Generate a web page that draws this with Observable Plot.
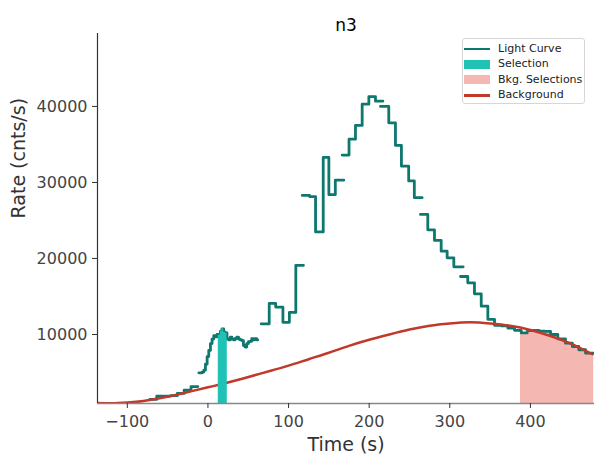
<!DOCTYPE html>
<html>
<head>
<meta charset="utf-8">
<script src="https://cdn.jsdelivr.net/npm/d3@7"></script>
<script src="https://cdn.jsdelivr.net/npm/@observablehq/plot@0.6"></script>
<style>
  body { margin: 0; background: #fff; font-family: "DejaVu Sans", sans-serif; }
  #wrap { position: relative; width: 602px; height: 465px; }
  .legend { position: absolute; left: 462px; top: 38px; width: 123px; height: 66px;
    border: 1px solid #d6d6d6; border-radius: 3px; background: rgba(255,255,255,0.85);
    box-sizing: border-box; font-size: 11px; color: #222; }
  .row { position: absolute; left: 0; height: 14px; width: 120px; }
  .row .h { position: absolute; left: 1px; width: 26px; }
  .row .t { position: absolute; left: 35px; top: 0; line-height: 14px; white-space: nowrap; }
</style>
</head>
<body>
<div id="wrap"></div>
<script>
// ---- data ----
const title = "n3";
const xLabel = "Time (s)";
const yLabel = "Rate (cnts/s)";
const xTicks = [-100, 0, 100, 200, 300, 400];
const yTicks = [10000, 20000, 30000, 40000];
const xDomain = [-137, 479.5];
const yDomain = [920, 49600];

// light curve, drawn in separate step segments (bin edges + rates)
const lc0Edges = [-72, -63.5, -55, -46.5, -38, -29.5, -21, -12.5];
const lc0Rates = [1450, 1900, 1900, 1950, 2250, 2680, 3150];

const lc1Edges = [-11.3, -9.2, -7.2, -5.1, -3.1, -1.0, 1.0, 3.1, 5.1, 7.2, 9.2, 11.3, 13.3, 15.4, 17.4, 19.5, 21.5, 23.6, 25.6, 27.7, 29.7, 31.7, 33.8, 35.8, 37.9, 39.9, 42.0, 44.0, 46.1, 48.1, 50.2, 52.2, 54.3, 56.3, 58.4, 60.4, 61.8];
const lc1Rates = [4950, 4950, 5050, 5300, 6100, 7100, 7900, 8800, 9400, 9850, 9700, 10000, 9900, 10400, 10750, 10300, 10200, 9400, 9300, 9650, 9400, 9300, 9500, 9650, 9400, 9300, 9200, 8550, 8350, 8800, 9050, 9100, 9450, 9300, 9450, 9300];

const lc2Edges = [66, 76, 84, 93, 101, 109, 118.5];
const lc2Rates = [11400, 14100, 13600, 11600, 12900, 19100];

const lc3Edges = [117, 126, 133.5, 143, 150, 158, 168.5];
const lc3Rates = [28300, 28150, 23500, 33300, 28400, 30300];

const lc4Edges = [166.5, 175, 183, 191.3, 199.6, 207.8, 217];
const lc4Rates = [33600, 35700, 37500, 40300, 41300, 40700];

const lc5Edges = [214, 224.3, 232.6, 240, 249, 256, 265.7];
const lc5Rates = [40000, 37850, 34870, 32150, 30200, 28000];

const lc6Edges = [263.6, 272.7, 281, 289.3, 296.7, 305, 316.6];
const lc6Rates = [25800, 23770, 22370, 20960, 20090, 18900];

const lc7Edges = [313.3, 322.3, 330.6, 339, 347.2, 355.5, 363.8, 372, 380.3, 388.6, 396];
const lc7Rates = [17630, 16800, 15350, 13720, 12000, 11200, 11150, 10850, 10550, 10200];

const lc8Edges = [396, 403, 410.5, 417.7, 425, 434, 443.5, 452, 460, 468.4, 478.5];
const lc8Rates = [10500, 10550, 10450, 10400, 10000, 9430, 8860, 8420, 7990, 7540];

// fitted background model
const bgTime = [-137, -120, -100, -80, -60, -40, -20, 0, 20, 40, 60, 80, 100, 125, 150, 175, 200, 225, 250, 275, 300, 325, 350, 375, 400, 425, 450, 477];
const bgRate = [1000, 950, 1050, 1250, 1600, 2050, 2550, 3050, 3550, 4100, 4700, 5300, 5900, 6750, 7600, 8500, 9300, 10000, 10650, 11150, 11450, 11600, 11450, 11150, 10600, 9800, 8800, 7400];

// selections
const srcSel = [12.8, 24.0];
const bkgSel = [387.7, 479.5];

// ---- build tables ----
const groups = [
  [lc0Edges, lc0Rates], [lc1Edges, lc1Rates], [lc2Edges, lc2Rates], [lc3Edges, lc3Rates],
  [lc4Edges, lc4Rates], [lc5Edges, lc5Rates], [lc6Edges, lc6Rates], [lc7Edges, lc7Rates], [lc8Edges, lc8Rates]
];
const lcPts = [];
groups.forEach(([e, r], g) => {
  r.forEach((v, i) => { lcPts.push({t: e[i], r: v, g}); lcPts.push({t: e[i + 1], r: v, g}); });
});
function clipSteps(list, a, b) {
  const out = [];
  list.forEach(([e, r]) => r.forEach((v, i) => {
    const lo = Math.max(e[i], a), hi = Math.min(e[i + 1], b);
    if (lo < hi) { out.push({t: lo, r: v}); out.push({t: hi, r: v}); }
  }));
  return out;
}
const selPts = clipSteps([[lc1Edges, lc1Rates]], srcSel[0], srcSel[1]);
const bkgPts = clipSteps([[lc7Edges, lc7Rates], [lc8Edges, lc8Rates]], bkgSel[0], bkgSel[1]);
const bgPts = bgTime.map((t, i) => ({t, r: bgRate[i]}));

const teal = "#0e786e", selFill = "#1fc2b4", bkgFill = "#f5b7b1", red = "#c0392b";

const chart = Plot.plot({
  width: 602, height: 465,
  marginLeft: 97, marginRight: 8, marginTop: 33, marginBottom: 62,
  x: {domain: xDomain},
  y: {domain: yDomain},
  style: {fontFamily: "DejaVu Sans", fontSize: "16px", color: "#444", background: "white"},
  marks: [
    Plot.areaY(bkgPts, {x: "t", y1: yDomain[0], y2: "r", fill: bkgFill, clip: true}),
    Plot.line(lcPts, {x: "t", y: "r", z: "g", stroke: teal, strokeWidth: 2.8, clip: true}),
    Plot.line(bgPts, {x: "t", y: "r", curve: "natural", stroke: red, strokeWidth: 2.5, clip: true}),
    Plot.areaY(selPts, {x: "t", y1: yDomain[0], y2: "r", fill: selFill, clip: true}),
    Plot.ruleX([xDomain[0]], {stroke: "#333", strokeWidth: 1.2}),
    Plot.ruleY([yDomain[0]], {stroke: "#888", strokeWidth: 1.4}),
    Plot.axisX({ticks: xTicks, tickSize: 5, tickPadding: 7, fontSize: 16, label: null, stroke: "#333"}),
    Plot.axisY({ticks: yTicks, tickSize: 5, tickPadding: 5, fontSize: 16, label: null, tickFormat: d => String(d), stroke: "#333"}),
    Plot.text([title], {frameAnchor: "top", dy: -15, fontSize: 17, fill: "#000"}),
    Plot.text([xLabel], {frameAnchor: "bottom", dy: 47, fontSize: 19, fill: "#333"}),
    Plot.text([yLabel], {frameAnchor: "left", dx: -79, rotate: -90, fontSize: 19, fill: "#333"})
  ]
});
const wrap = document.getElementById("wrap");
wrap.appendChild(chart);

// legend
const legendItems = [
  {label: "Light Curve", kind: "line", color: teal},
  {label: "Selection", kind: "patch", color: selFill},
  {label: "Bkg. Selections", kind: "patch", color: bkgFill},
  {label: "Background", kind: "line", color: red}
];
const lg = document.createElement("div");
lg.className = "legend";
legendItems.forEach((d, i) => {
  const row = document.createElement("div");
  row.className = "row";
  row.style.top = (2.5 + i * 15.5) + "px";
  const h = document.createElement("div");
  h.className = "h";
  if (d.kind === "line") { h.style.top = "6px"; h.style.height = "2.6px"; }
  else { h.style.top = "2.5px"; h.style.height = "9px"; }
  h.style.background = d.color;
  const t = document.createElement("div");
  t.className = "t";
  t.textContent = d.label;
  row.appendChild(h); row.appendChild(t);
  lg.appendChild(row);
});
wrap.appendChild(lg);
</script>
</body>
</html>
